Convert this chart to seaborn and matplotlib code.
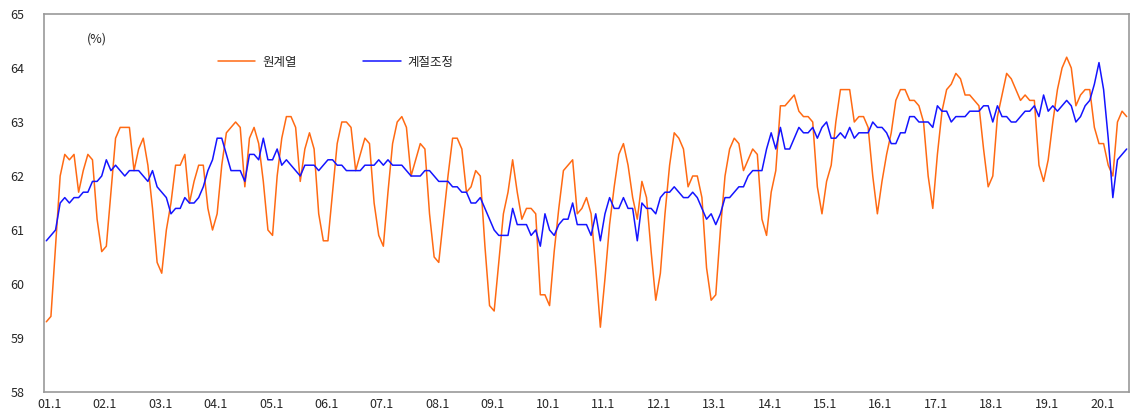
import numpy as np
import pandas as pd
import matplotlib
matplotlib.use("Agg")
import matplotlib.pyplot as plt
import seaborn as sns

# x-axis labels (January of each year)
tick_labels = ["01.1", "02.1", "03.1", "04.1", "05.1", "06.1", "07.1", "08.1", "09.1", "10.1",
               "11.1", "12.1", "13.1", "14.1", "15.1", "16.1", "17.1", "18.1", "19.1", "20.1"]

# monthly series 2001.1 - 2020.7 (%)
original = [
    59.3, 59.4, 60.7, 62.0, 62.4, 62.3, 62.4, 61.7, 62.1, 62.4, 62.3, 61.2,  # 2001
    60.6, 60.7, 61.7, 62.7, 62.9, 62.9, 62.9, 62.1, 62.5, 62.7, 62.2, 61.4,  # 2002
    60.4, 60.2, 61.0, 61.5, 62.2, 62.2, 62.4, 61.5, 61.9, 62.2, 62.2, 61.4,  # 2003
    61.0, 61.3, 62.2, 62.8, 62.9, 63.0, 62.9, 61.8, 62.7, 62.9, 62.6, 61.9,  # 2004
    61.0, 60.9, 62.0, 62.7, 63.1, 63.1, 62.9, 61.9, 62.5, 62.8, 62.5, 61.3,  # 2005
    60.8, 60.8, 61.7, 62.6, 63.0, 63.0, 62.9, 62.1, 62.4, 62.7, 62.6, 61.5,  # 2006
    60.9, 60.7, 61.7, 62.6, 63.0, 63.1, 62.9, 62.0, 62.3, 62.6, 62.5, 61.3,  # 2007
    60.5, 60.4, 61.2, 62.0, 62.7, 62.7, 62.5, 61.7, 61.8, 62.1, 62.0, 60.7,  # 2008
    59.6, 59.5, 60.4, 61.3, 61.7, 62.3, 61.7, 61.2, 61.4, 61.4, 61.3, 59.8,  # 2009
    59.8, 59.6, 60.6, 61.4, 62.1, 62.2, 62.3, 61.3, 61.4, 61.6, 61.3, 60.3,  # 2010
    59.2, 60.1, 61.1, 61.8, 62.4, 62.6, 62.2, 61.6, 61.2, 61.9, 61.6, 60.6,  # 2011
    59.7, 60.2, 61.3, 62.2, 62.8, 62.7, 62.5, 61.8, 62.0, 62.0, 61.6, 60.3,  # 2012
    59.7, 59.8, 61.0, 62.0, 62.5, 62.7, 62.6, 62.1, 62.3, 62.5, 62.4, 61.2,  # 2013
    60.9, 61.7, 62.1, 63.3, 63.3, 63.4, 63.5, 63.2, 63.1, 63.1, 63.0, 61.8,  # 2014
    61.3, 61.9, 62.2, 63.0, 63.6, 63.6, 63.6, 63.0, 63.1, 63.1, 62.9, 62.0,  # 2015
    61.3, 61.9, 62.4, 62.8, 63.4, 63.6, 63.6, 63.4, 63.4, 63.3, 63.0, 62.0,  # 2016
    61.4, 62.4, 63.2, 63.6, 63.7, 63.9, 63.8, 63.5, 63.5, 63.4, 63.3, 62.5,  # 2017
    61.8, 62.0, 63.1, 63.5, 63.9, 63.8, 63.6, 63.4, 63.5, 63.4, 63.4, 62.2,  # 2018
    61.9, 62.3, 63.0, 63.6, 64.0, 64.2, 64.0, 63.3, 63.5, 63.6, 63.6, 62.9,  # 2019
    62.6, 62.6, 62.2, 62.0, 63.0, 63.2, 63.1,                                # 2020
]
seasonal = [
    60.8, 60.9, 61.0, 61.5, 61.6, 61.5, 61.6, 61.6, 61.7, 61.7, 61.9, 61.9,  # 2001
    62.0, 62.3, 62.1, 62.2, 62.1, 62.0, 62.1, 62.1, 62.1, 62.0, 61.9, 62.1,  # 2002
    61.8, 61.7, 61.6, 61.3, 61.4, 61.4, 61.6, 61.5, 61.5, 61.6, 61.8, 62.1,  # 2003
    62.3, 62.7, 62.7, 62.4, 62.1, 62.1, 62.1, 61.9, 62.4, 62.4, 62.3, 62.7,  # 2004
    62.3, 62.3, 62.5, 62.2, 62.3, 62.2, 62.1, 62.0, 62.2, 62.2, 62.2, 62.1,  # 2005
    62.2, 62.3, 62.3, 62.2, 62.2, 62.1, 62.1, 62.1, 62.1, 62.2, 62.2, 62.2,  # 2006
    62.3, 62.2, 62.3, 62.2, 62.2, 62.2, 62.1, 62.0, 62.0, 62.0, 62.1, 62.1,  # 2007
    62.0, 61.9, 61.9, 61.9, 61.8, 61.8, 61.7, 61.7, 61.5, 61.5, 61.6, 61.4,  # 2008
    61.2, 61.0, 60.9, 60.9, 60.9, 61.4, 61.1, 61.1, 61.1, 60.9, 61.0, 60.7,  # 2009
    61.3, 61.0, 60.9, 61.1, 61.2, 61.2, 61.5, 61.1, 61.1, 61.1, 60.9, 61.3,  # 2010
    60.8, 61.3, 61.6, 61.4, 61.4, 61.6, 61.4, 61.4, 60.8, 61.5, 61.4, 61.4,  # 2011
    61.3, 61.6, 61.7, 61.7, 61.8, 61.7, 61.6, 61.6, 61.7, 61.6, 61.4, 61.2,  # 2012
    61.3, 61.1, 61.3, 61.6, 61.6, 61.7, 61.8, 61.8, 62.0, 62.1, 62.1, 62.1,  # 2013
    62.5, 62.8, 62.5, 62.9, 62.5, 62.5, 62.7, 62.9, 62.8, 62.8, 62.9, 62.7,  # 2014
    62.9, 63.0, 62.7, 62.7, 62.8, 62.7, 62.9, 62.7, 62.8, 62.8, 62.8, 63.0,  # 2015
    62.9, 62.9, 62.8, 62.6, 62.6, 62.8, 62.8, 63.1, 63.1, 63.0, 63.0, 63.0,  # 2016
    62.9, 63.3, 63.2, 63.2, 63.0, 63.1, 63.1, 63.1, 63.2, 63.2, 63.2, 63.3,  # 2017
    63.3, 63.0, 63.3, 63.1, 63.1, 63.0, 63.0, 63.1, 63.2, 63.2, 63.3, 63.1,  # 2018
    63.5, 63.2, 63.3, 63.2, 63.3, 63.4, 63.3, 63.0, 63.1, 63.3, 63.4, 63.7,  # 2019
    64.1, 63.6, 62.7, 61.6, 62.3, 62.4, 62.5,                                # 2020
]

# Build long-form frame
df = pd.DataFrame({"idx": np.arange(len(original)), "원계열": original, "계절조정": seasonal})
df_long = df.melt(id_vars="idx", var_name="series", value_name="rate")

sns.set_style("white")
plt.rcParams['font.family'] = ['Noto Sans CJK KR', 'DejaVu Sans']

W, H = 1132, 409
fig = plt.figure(figsize=(W / 100, H / 100), dpi=100)
ax = fig.add_axes([44 / W, 17 / H, 1085 / W, 378 / H])

sns.lineplot(data=df_long, x="idx", y="rate", hue="series",
             palette={"원계열": "#ff6a13", "계절조정": "#1414ff"},
             linewidth=1.1, ax=ax)

# Axes
ax.set_xlim(-0.5, len(original) - 0.5)
ax.set_ylim(58, 65)
ax.set_yticks(range(58, 66))
ax.set_xticks(np.arange(len(tick_labels)) * 12 + 0.7)
ax.set_xticklabels(tick_labels)
ax.set_xticks(np.arange(5.5, len(original), 6), minor=True)
ax.set_xlabel("")
ax.set_ylabel("")
ax.tick_params(axis="y", direction="in", length=4, color="#999999", labelsize=9, pad=14)
ax.tick_params(axis="x", which="major", length=0, labelsize=9, pad=4)
ax.tick_params(axis="x", which="minor", direction="in", length=4, color="#999999")
for s in ax.spines.values():
    s.set_color("#999999")
    s.set_linewidth(1.2)

ax.text(0.049, 0.935, "(%)", transform=ax.transAxes, ha="center", va="center", fontsize=9)

ax.legend(loc="center left", bbox_to_anchor=(0.1545, 0.873), ncol=2, frameon=False,
          handlelength=3.0, handletextpad=0.55, columnspacing=5.3, borderpad=0,
          fontsize=9)

fig.savefig("out.png", dpi=100)
plt.close(fig)
